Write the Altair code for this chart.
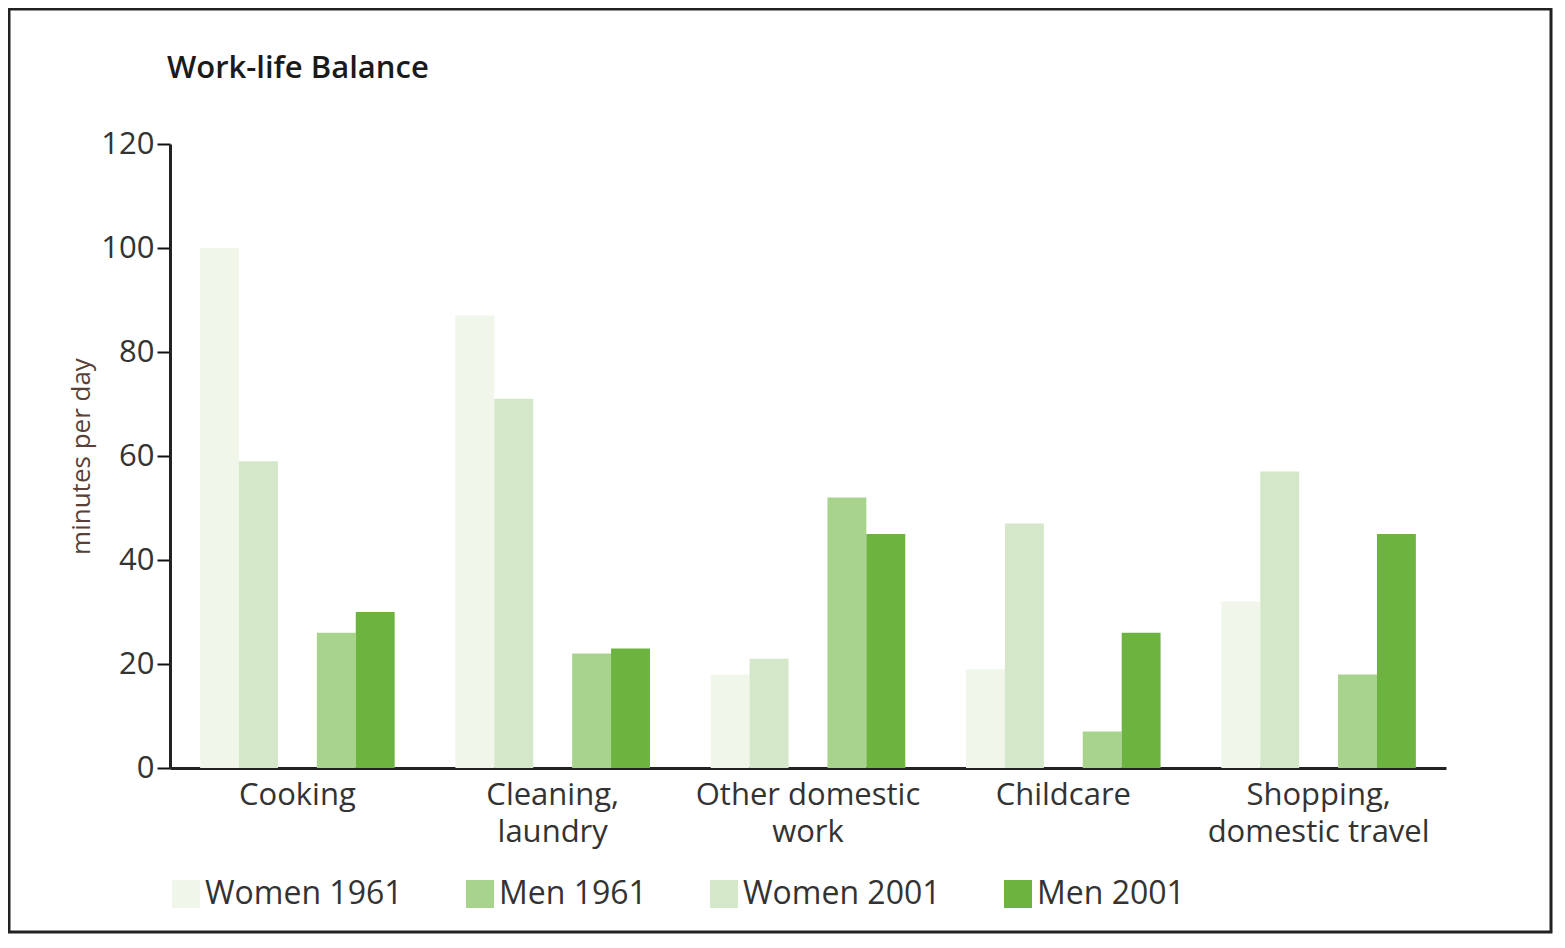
import altair as alt
import pandas as pd

categories = ["Cooking", "Cleaning,\nlaundry", "Other domestic\nwork", "Childcare", "Shopping,\ndomestic travel"]
women_1961 = [100, 87, 18, 19, 32]
women_2001 = [59, 71, 21, 47, 57]
men_1961 = [26, 22, 52, 7, 18]
men_2001 = [30, 23, 45, 26, 45]

legend_order = ["Women 1961", "Men 1961", "Women 2001", "Men 2001"]
colors = ["#f0f7ea", "#a8d38c", "#d4e8c9", "#6db33f"]
slot_order = ["Women 1961", "Women 2001", "gap", "Men 1961", "Men 2001"]
y_ticks = [0, 20, 40, 60, 80, 100, 120]

series = {
    "Women 1961": women_1961,
    "Women 2001": women_2001,
    "Men 1961": men_1961,
    "Men 2001": men_2001,
}
rows = []
for name, vals in series.items():
    for cat, v in zip(categories, vals):
        rows.append({"category": cat, "series": name, "value": v})
df = pd.DataFrame(rows)

FONT = "Open Sans"
W, H = 1276, 624

bars = alt.Chart(df).mark_bar().encode(
    x=alt.X(
        "category:N",
        sort=categories,
        scale=alt.Scale(paddingInner=0.238, paddingOuter=0.118),
        axis=alt.Axis(
            title=None,
            labelAngle=0,
            ticks=False,
            grid=False,
            labelFont=FONT,
            labelFontSize=31,
            labelColor="#333333",
            labelPadding=12,
            labelLineHeight=37,
            labelLimit=0,
            labelExpr="split(datum.value, '\\n')",
            domainColor="#222222",
            domainWidth=3,
        ),
    ),
    xOffset=alt.XOffset(
        "series:N",
        scale=alt.Scale(domain=slot_order, paddingInner=0, paddingOuter=0),
    ),
    y=alt.Y(
        "value:Q",
        scale=alt.Scale(domain=[0, 120], nice=False),
        axis=alt.Axis(
            title="minutes per day",
            values=y_ticks,
            grid=False,
            labelFont=FONT,
            labelFontSize=31,
            labelColor="#333333",
            labelPadding=3,
            tickSize=13,
            tickWidth=2,
            tickColor="#111111",
            domainColor="#222222",
            domainWidth=3,
            titleFont=FONT,
            titleFontSize=26,
            titleFontWeight="normal",
            titleColor="#5a4036",
            titlePadding=6,
        ),
    ),
    color=alt.Color(
        "series:N",
        scale=alt.Scale(domain=legend_order, range=colors),
        legend=alt.Legend(
            title=None,
            orient="none",
            legendX=0,
            legendY=734,
            direction="horizontal",
            columns=4,
            padding=0,
            symbolType="square",
            symbolSize=784,
            symbolStrokeWidth=0,
            symbolOpacity=1,
            labelFont=FONT,
            labelFontSize=32,
            labelColor="#333333",
            labelOffset=3,
            labelLimit=0,
            columnPadding=61,
        ),
    ),
)

frame = alt.Chart(pd.DataFrame({"a": [0]})).mark_rect(
    fillOpacity=0, stroke="#222222", strokeWidth=3
).encode(
    x=alt.value(-161),
    x2=alt.value(1381),
    y=alt.value(-135),
    y2=alt.value(788),
)

chart = alt.layer(bars, frame).properties(
    width=W,
    height=H,
    padding={"left": 162, "top": 136, "right": 107, "bottom": 166},
    autosize=alt.AutoSizeParams(type="none"),
    title=alt.TitleParams(
        "Work-life Balance",
        anchor="start",
        frame="group",
        font=FONT,
        fontSize=31,
        fontWeight=600,
        color="#1a1a1a",
        baseline="alphabetic",
        offset=-101,
        dx=-3,
    ),
).configure(
    background="white",
    view=alt.ViewConfig(stroke=None, strokeWidth=0),
)

chart.save("out.html", embed_options={"renderer": "svg", "actions": False})
